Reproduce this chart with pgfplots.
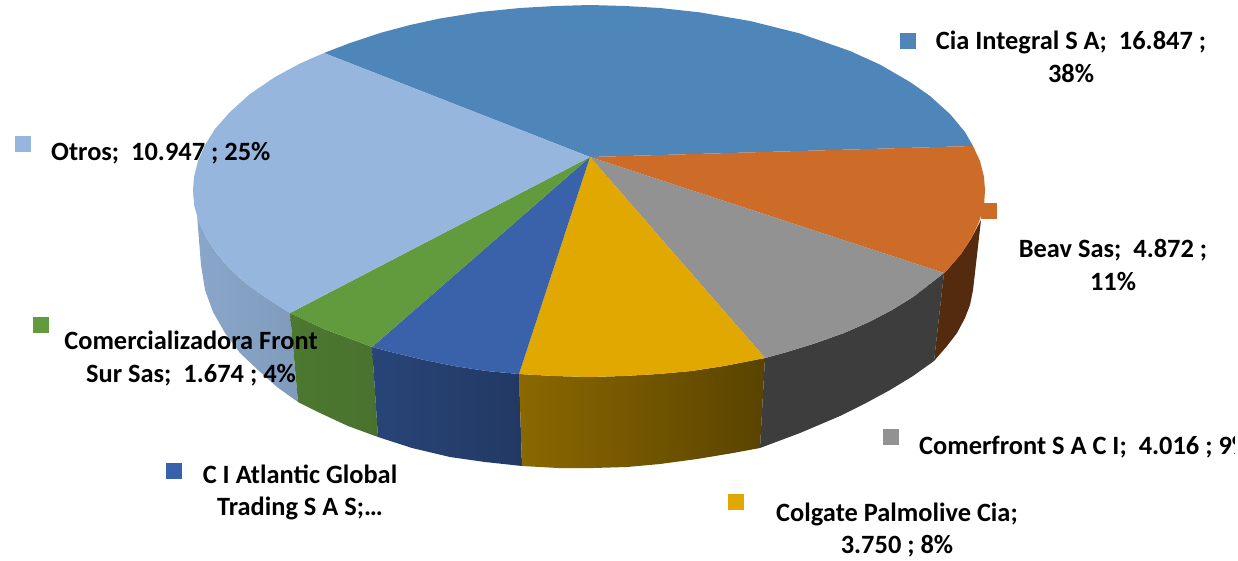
\documentclass[border=0pt]{standalone}
\usepackage{fontspec}
\setmainfont{Carlito}
\usepackage{pgfplots}
\pgfplotsset{compat=1.18}
\definecolor{cCia}{HTML}{4F86BA}
\definecolor{cBeav}{HTML}{CD6B28}
\definecolor{cGray}{HTML}{929292}
\definecolor{cYel}{HTML}{E0A800}
\definecolor{cBlue}{HTML}{3A62AB}
\definecolor{cGreen}{HTML}{629A3E}
\definecolor{cLight}{HTML}{96B6DD}
\tikzset{lab/.style={font=\fontsize{26.4}{26.4}\selectfont\bfseries,text=black,inner sep=0pt,anchor=base}}
\begin{document}
\begin{tikzpicture}
\path[use as bounding box] (0,0) rectangle (1238pt,560pt);
\clip (0,0) rectangle (1234pt,560pt);
\begin{axis}[at={(0pt,0pt)},anchor=south west,scale only axis,width=1238pt,height=560pt,
  xmin=0,xmax=1238,ymin=0,ymax=560,y dir=reverse,hide axis,clip=false,
  every axis plot/.append style={forget plot}]
% side faces
\addplot[draw=none,mark=none,left color=cLight!92!black,right color=cLight!85!black] coordinates {(193,190)(197,215)(199,240)(201,265)(205,290)(213,312)(225,333)(240,353)(258,370)(277,387)(298,402)(290,313)(265,297)(246,283.5)(230,269)(217,254)(206.5,238)(199,222)(194.5,206)(193,190)};
\addplot[draw=none,mark=none,left color=cGreen!78!black,right color=cGreen!74!black] coordinates {(290,313)(298,402)(320,413)(348,426)(378,437)(372,347)(351,339)(324,329)(290,313)};
\addplot[draw=none,mark=none,left color=cBlue!70!black,right color=cBlue!58!black] coordinates {(372,347)(378,437)(412,448)(450,457)(485,462)(522,466)(519,374)(486.5,371)(454,366)(422,359.5)(391,352)(372,347)};
\addplot[draw=none,mark=none,left color=cYel!62!black,right color=cYel!40!black] coordinates {(519,374)(522,466)(558,468)(593,468)(627,467)(660,464)(697,459)(733,453)(760,448)(765,358)(724,366)(691.5,371)(658,374)(623.5,376)(589,377)(554.5,376)(519,374)};
\addplot[draw=none,mark=none,fill=black!76] coordinates {(765,358)(760,448)(800,433)(840,416)(866,403)(890,390)(913,376)(934,361)(944,273)(913,297)(892,310)(869,322)(844,333)(816,343)(787,352)(765,358)};
\addplot[draw=none,mark=none,fill={rgb,255:red,85;green,43;blue,16}] coordinates {(944,273)(934,361)(947,346)(957,333)(965,318)(970,305)(973,290)(977,255)(981,220)(971.5,238)(961,254)(948,269)(944,273)};
% top faces
\addplot[draw=none,mark=none,fill=cCia] coordinates {(590,157)(324,53)(350,43)(380,33)(410,25)(440,18.5)(480,12)(520,8)(555,6)(590,5)(625,6)(660,8)(700,12.4)(750,21)(800,33.5)(850,51)(880,64.6)(910,82)(930,96)(950,114)(965,132)(973,146)(590,157)};
\addplot[draw=none,mark=none,fill=cBeav] coordinates {(590,157)(973,146)(980,161)(984,177)(985,190)(984,206)(979,222)(971.5,238)(961,254)(948,269)(944,273)(590,157)};
\addplot[draw=none,mark=none,fill=cGray] coordinates {(590,157)(944,273)(913,297)(892,310)(869,322)(844,333)(816,343)(787,352)(765,358)(590,157)};
\addplot[draw=none,mark=none,fill=cYel] coordinates {(590,157)(765,358)(724,366)(691.5,371)(658,374)(623.5,376)(589,377)(554.5,376)(519,374)(590,157)};
\addplot[draw=none,mark=none,fill=cBlue] coordinates {(590,157)(519,374)(486.5,371)(454,366)(422,359.5)(391,352)(372,347)(590,157)};
\addplot[draw=none,mark=none,fill=cGreen] coordinates {(590,157)(372,347)(351,339)(324,329)(290,313)(590,157)};
\addplot[draw=none,mark=none,fill=cLight] coordinates {(590,157)(290,313)(265,297)(246,283.5)(230,269)(217,254)(206.5,238)(199,222)(194.5,206)(193,190)(194,177)(198,161)(205,145)(215,129)(230,112)(250,94)(275,77)(300,63.5)(324,53)(590,157)};
% legend keys
\addplot[only marks,mark=square*,mark size=7.5pt,draw=none,mark options={draw=cCia,fill=cCia,line width=0pt}] coordinates {(907.5,40.5)};
\addplot[only marks,mark=square*,mark size=7.5pt,draw=none,mark options={draw=cBeav,fill=cBeav,line width=0pt}] coordinates {(988.5,210.5)};
\addplot[only marks,mark=square*,mark size=7.5pt,draw=none,mark options={draw=cGray,fill=cGray,line width=0pt}] coordinates {(890.5,436.5)};
\addplot[only marks,mark=square*,mark size=7.5pt,draw=none,mark options={draw=cYel,fill=cYel,line width=0pt}] coordinates {(735.5,501.5)};
\addplot[only marks,mark=square*,mark size=7.5pt,draw=none,mark options={draw=cBlue,fill=cBlue,line width=0pt}] coordinates {(173.5,470.5)};
\addplot[only marks,mark=square*,mark size=7.5pt,draw=none,mark options={draw=cGreen,fill=cGreen,line width=0pt}] coordinates {(40.5,324.5)};
\addplot[only marks,mark=square*,mark size=7.5pt,draw=none,mark options={draw=cLight,fill=cLight,line width=0pt}] coordinates {(22.5,143.5)};
% labels
\node[lab] at (axis cs:1071,49) {Cia Integral S A;~~16.847 ;};
\node[lab] at (axis cs:1071,82) {38\%};
\node[lab] at (axis cs:1113,257) {Beav Sas;~~4.872 ;};
\node[lab] at (axis cs:1113,290) {11\%};
\node[lab,anchor=base west] at (axis cs:919,454) {Comerfront S A C I;~~4.016 ; 9\%};
\node[lab] at (axis cs:897,521) {Colgate Palmolive Cia;};
\node[lab] at (axis cs:897,553) {3.750 ; 8\%};
\node[lab] at (axis cs:300,483) {C I Atlantic Global};
\node[lab] at (axis cs:300,515) {Trading S A S;\ldots};
\node[lab] at (axis cs:191,349) {Comercializadora Front};
\node[lab] at (axis cs:191,382) {Sur Sas;~~1.674 ; 4\%};
\node[lab,anchor=base west] at (axis cs:51,160) {Otros;~~10.947 ; 25\%};
\end{axis}
\end{tikzpicture}
\end{document}
